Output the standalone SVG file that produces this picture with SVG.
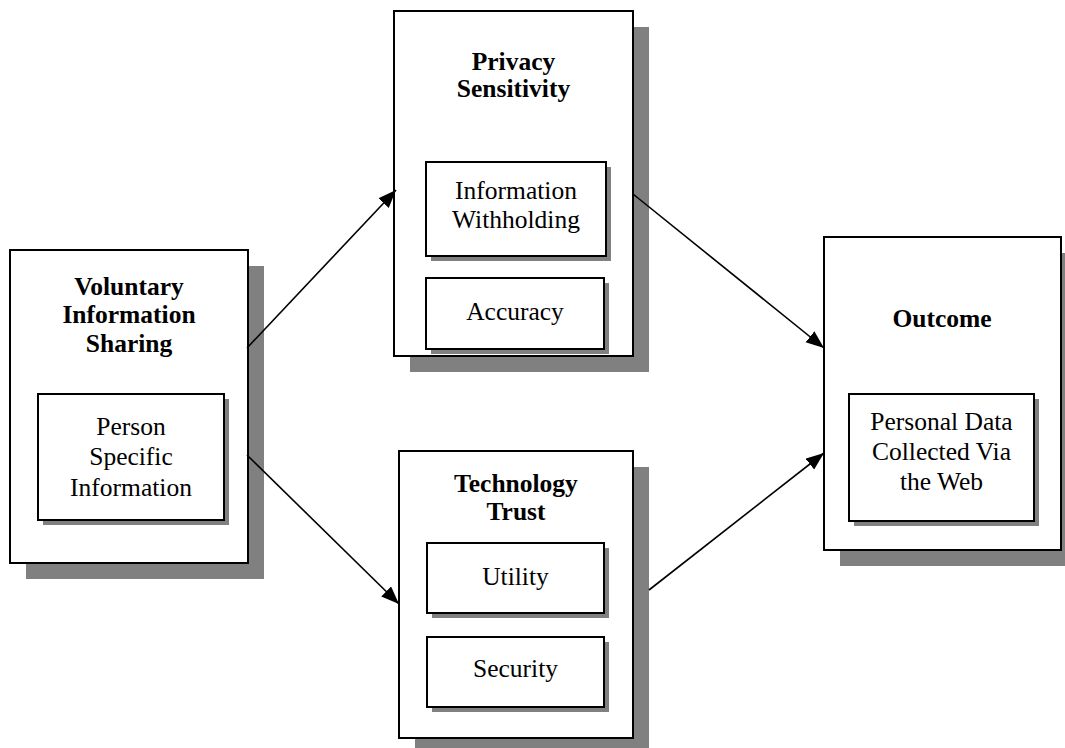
<svg xmlns="http://www.w3.org/2000/svg" width="1065" height="748" viewBox="0 0 1065 748">
<style>
.box{fill:#fff;stroke:#000;stroke-width:2}
.sh{fill:#808080}
.t{font-family:"Liberation Serif","Times New Roman",serif;font-size:25.5px;text-anchor:middle;fill:#000}
.b{font-weight:bold}
.c{stroke:#000;stroke-width:1.6;fill:none;marker-end:url(#ah)}
</style>
<defs>
<marker id="ah" markerUnits="userSpaceOnUse" markerWidth="20" markerHeight="16" refX="18" refY="7" orient="auto">
<path d="M0,0 L18,7 L0,14 Z" fill="#000"/>
</marker>
</defs>
<rect width="1065" height="748" fill="#fff"/>
<g id="voluntary">
<rect class="sh" x="26" y="266" width="238" height="313"/>
<rect class="box" x="10" y="250" width="238" height="313"/>
<text class="t b" x="129" y="295">Voluntary</text>
<text class="t b" x="129" y="323">Information</text>
<text class="t b" x="129" y="352">Sharing</text>
<g id="person-specific">
<rect class="sh" x="43" y="399" width="186" height="126"/>
<rect class="box" x="38" y="394" width="186" height="126"/>
<text class="t" x="131" y="435">Person</text>
<text class="t" x="131" y="465">Specific</text>
<text class="t" x="131" y="496">Information</text>
</g>
</g>
<g id="privacy">
<rect class="sh" x="410" y="27" width="239" height="345"/>
<rect class="box" x="394" y="11" width="239" height="345"/>
<text class="t b" x="513.5" y="70">Privacy</text>
<text class="t b" x="513.5" y="97">Sensitivity</text>
<g id="withholding">
<rect class="sh" x="431" y="167" width="180" height="94"/>
<rect class="box" x="426" y="162" width="180" height="94"/>
<text class="t" x="516" y="199">Information</text>
<text class="t" x="516" y="228">Withholding</text>
</g>
<g id="accuracy">
<rect class="sh" x="431" y="283" width="178" height="71"/>
<rect class="box" x="426" y="278" width="178" height="71"/>
<text class="t" x="515" y="320">Accuracy</text>
</g>
</g>
<g id="technology">
<rect class="sh" x="415" y="467" width="234" height="287"/>
<rect class="box" x="399" y="451" width="234" height="287"/>
<text class="t b" x="516" y="492">Technology</text>
<text class="t b" x="516" y="520">Trust</text>
<g id="utility">
<rect class="sh" x="432" y="548" width="177" height="70"/>
<rect class="box" x="427" y="543" width="177" height="70"/>
<text class="t" x="515.5" y="585">Utility</text>
</g>
<g id="security">
<rect class="sh" x="432" y="642" width="177" height="70"/>
<rect class="box" x="427" y="637" width="177" height="70"/>
<text class="t" x="515.5" y="677">Security</text>
</g>
</g>
<g id="outcome">
<rect class="sh" x="840" y="253" width="237" height="313"/>
<rect class="box" x="824" y="237" width="237" height="313"/>
<text class="t b" x="942" y="327">Outcome</text>
<g id="personal-data">
<rect class="sh" x="854" y="399" width="185" height="127"/>
<rect class="box" x="849" y="394" width="185" height="127"/>
<text class="t" x="941.5" y="430">Personal Data</text>
<text class="t" x="941.5" y="460">Collected Via</text>
<text class="t" x="941.5" y="490">the Web</text>
</g>
</g>
<g id="connectors">
<line class="c" x1="247" y1="348" x2="396" y2="190"/>
<line class="c" x1="247" y1="455" x2="399" y2="604"/>
<line class="c" x1="633" y1="194" x2="824" y2="348"/>
<line class="c" x1="649" y1="590" x2="824" y2="453"/>
</g>
</svg>
